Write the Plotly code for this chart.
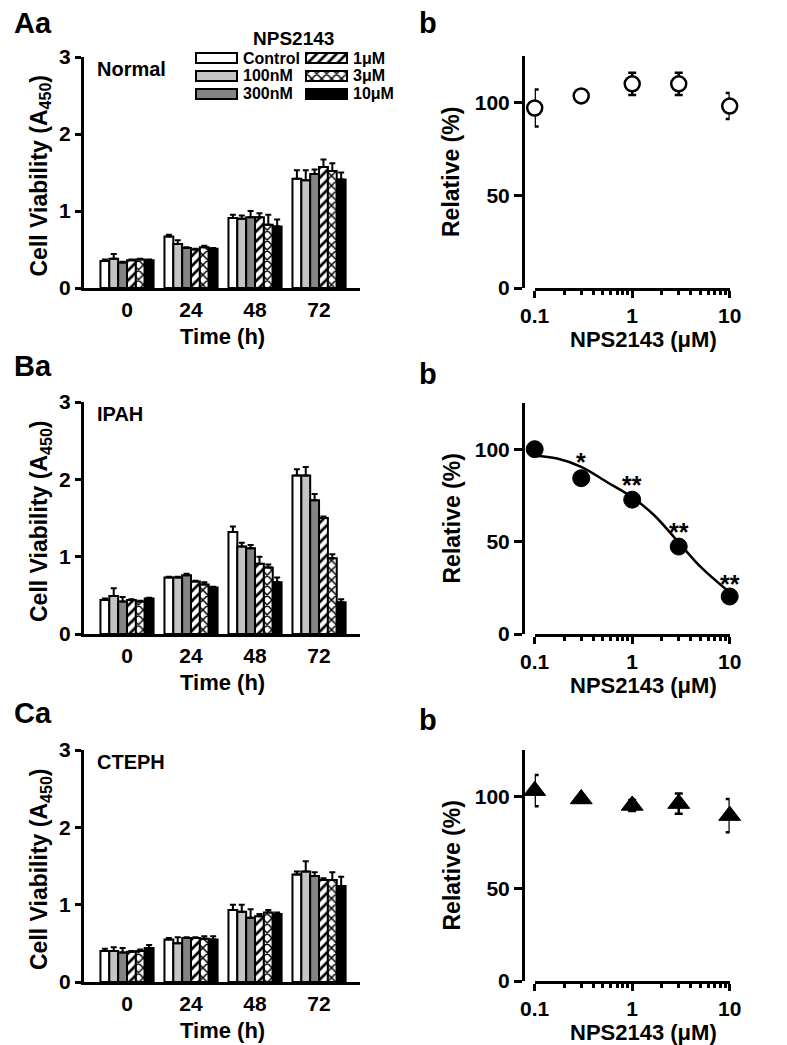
import math
import plotly.graph_objects as go

# ---------------- data ----------------
times = ["0", "24", "48", "72"]
series_names = ["Control", "100nM", "300nM", "1μM", "3μM", "10μM"]
series_fill = ["white", "#c4c4c4", "#848484", "white", "white", "black"]
series_pattern = ["", "", "", "/", "x", ""]

# rows: Control, 100nM, 300nM, 1uM, 3uM, 10uM ; columns: 0, 24, 48, 72 h
normal_means = [[0.35, 0.67, 0.91, 1.42],
                [0.38, 0.57, 0.90, 1.40],
                [0.33, 0.52, 0.92, 1.48],
                [0.36, 0.50, 0.92, 1.57],
                [0.37, 0.53, 0.82, 1.52],
                [0.36, 0.51, 0.80, 1.41]]
normal_sem = [[0.02, 0.02, 0.04, 0.11],
              [0.06, 0.05, 0.04, 0.13],
              [0.01, 0.01, 0.08, 0.06],
              [0.01, 0.01, 0.05, 0.10],
              [0.01, 0.02, 0.13, 0.10],
              [0.01, 0.01, 0.09, 0.09]]

ipah_means = [[0.44, 0.73, 1.32, 2.05],
              [0.49, 0.73, 1.13, 2.05],
              [0.42, 0.76, 1.11, 1.73],
              [0.44, 0.68, 0.91, 1.50],
              [0.42, 0.64, 0.86, 0.98],
              [0.46, 0.60, 0.67, 0.41]]
ipah_sem = [[0.02, 0.01, 0.07, 0.08],
            [0.10, 0.01, 0.05, 0.11],
            [0.06, 0.02, 0.04, 0.08],
            [0.01, 0.01, 0.09, 0.02],
            [0.01, 0.03, 0.04, 0.05],
            [0.01, 0.01, 0.06, 0.04]]

cteph_means = [[0.40, 0.55, 0.93, 1.39],
               [0.40, 0.50, 0.91, 1.43],
               [0.38, 0.57, 0.83, 1.37],
               [0.39, 0.57, 0.85, 1.32],
               [0.40, 0.56, 0.90, 1.32],
               [0.44, 0.55, 0.88, 1.24]]
cteph_sem = [[0.03, 0.02, 0.07, 0.04],
             [0.05, 0.08, 0.09, 0.13],
             [0.06, 0.01, 0.11, 0.05],
             [0.01, 0.01, 0.03, 0.02],
             [0.02, 0.03, 0.03, 0.10],
             [0.04, 0.04, 0.02, 0.12]]

conc = [0.1, 0.3, 1, 3, 10]
normal_rel = [97, 103.5, 110, 110, 98]
normal_rel_err = [10, 1, 6, 6, 7]
ipah_rel = [100, 84.3, 72.7, 47.3, 20.3]
ipah_rel_err = [1, 2, 2, 2, 1]
cteph_rel = [103, 98.5, 95, 96, 89.5]
cteph_rel_err = [8.5, 2, 3, 5.5, 9]

# fitted curve for IPAH
ipah_fit_x = [0.1, 0.17, 0.3, 0.56, 1, 1.7, 3, 5.1, 10]
ipah_fit_y = [96.5, 95, 90.5, 82, 74, 64, 49.5, 36, 22.5]

# significance marks
sig_x = [0.3, 1, 3, 10]
sig_y = [96.5, 84, 58.6, 30.4]
sig_text = ["*", "**", "**", "**"]

conc_ticks = [0.1, 1, 10]
conc_ticktext = ["0.1", "1", "10"]
conc_minor = [0.2, 0.3, 0.4, 0.5, 0.6, 0.7, 0.8, 0.9, 2, 3, 4, 5, 6, 7, 8, 9]

# ---------------- layout helpers ----------------
W, H = 787, 1045
FONT = "Liberation Sans, Arial, Helvetica, sans-serif"


def fx(p):
    return p / W


def fy(p):
    return 1 - p / H


def bold(size):
    return dict(family=FONT, size=size, color="black", weight="bold")


left_rows = [(49, 280), (394, 626), (742, 974)]
right_rows = [(48, 280), (395, 626), (742, 973)]
LEFT_X = (76, 352)
RIGHT_X = (526.7, 721.7)
RIGHT_YAX = 515

fig = go.Figure()
layout = dict(
    width=W, height=H, template="none",
    margin=dict(l=0, r=0, t=0, b=0),
    paper_bgcolor="white", plot_bgcolor="white",
    font=bold(16),
    barmode="group", bargap=0.17, bargroupgap=0,
    showlegend=False,
)

tickfont = bold(21)
annotations = []

panels_bar = [(normal_means, normal_sem, "Normal"),
              (ipah_means, ipah_sem, "IPAH"),
              (cteph_means, cteph_sem, "CTEPH")]
panels_rel = [(normal_rel, normal_rel_err, "open"),
              (ipah_rel, ipah_rel_err, "filled"),
              (cteph_rel, cteph_rel_err, "triangle")]
panel_letters = ["Aa", "Ba", "Ca"]
letter_y = [15, 358, 705]
b_letter_y = [15, 366, 712]


def bar_marker(s):
    marker = dict(color=series_fill[s], line=dict(color="black", width=2))
    if series_pattern[s]:
        marker["pattern"] = dict(shape=series_pattern[s], fgcolor="black", bgcolor="white",
                                 size=7, solidity=0.38, fillmode="replace")
    return marker


for i in range(3):
    xa_l, ya_l = 2 * i + 1, 2 * i + 1
    xa_r, ya_r = 2 * i + 2, 2 * i + 2
    xl = "x" if xa_l == 1 else f"x{xa_l}"
    yl = "y" if ya_l == 1 else f"y{ya_l}"
    xr, yr = f"x{xa_r}", f"y{ya_r}"
    top, bot = left_rows[i]
    rtop, rbot = right_rows[i]

    means, sem, label = panels_bar[i]
    for s in range(6):
        fig.add_trace(go.Bar(
            x=times, y=means[s], name=series_names[s], xaxis=xl, yaxis=yl,
            marker=bar_marker(s), offsetgroup=str(s),
            error_y=dict(type="data", symmetric=False, array=sem[s],
                         arrayminus=[0] * len(sem[s]), color="black",
                         thickness=2, width=3),
        ))

    kx = "xaxis" if xa_l == 1 else f"xaxis{xa_l}"
    ky = "yaxis" if ya_l == 1 else f"yaxis{ya_l}"
    layout[kx] = dict(domain=[fx(LEFT_X[0]), fx(LEFT_X[1])], anchor=yl, type="category",
                      range=[-0.672, 3.64], showline=True, linecolor="black", linewidth=3,
                      ticks="outside", ticklen=1, tickcolor="rgba(0,0,0,0)",
                      tickfont=tickfont, showgrid=False, zeroline=False, fixedrange=True)
    layout[ky] = dict(domain=[fy(bot), fy(top)], anchor=xl, range=[0, 3],
                      tickvals=[0, 1, 2, 3], showline=True, linecolor="black", linewidth=3,
                      ticks="outside", ticklen=6, tickwidth=3, tickcolor="black",
                      tickfont=tickfont, showgrid=False, zeroline=False, fixedrange=True)

    # right panel
    vals, errs, style = panels_rel[i]
    if style == "open":
        mk = dict(symbol="circle", size=15, color="white", line=dict(color="black", width=2.5))
    elif style == "filled":
        mk = dict(symbol="circle", size=17, color="black", line=dict(color="black", width=1))
    else:
        mk = dict(symbol="triangle-up", size=19, color="black", line=dict(color="black", width=1))

    if style == "filled":
        fig.add_trace(go.Scatter(x=ipah_fit_x, y=ipah_fit_y, mode="lines", xaxis=xr, yaxis=yr,
                                 line=dict(color="black", width=2.5, shape="spline", smoothing=1.0),
                                 cliponaxis=False, hoverinfo="skip"))
    fig.add_trace(go.Scatter(
        x=conc, y=vals, mode="markers", xaxis=xr, yaxis=yr, marker=mk, cliponaxis=False,
        error_y=dict(type="data", array=errs, color="black", thickness=2.5, width=4),
    ))
    if style == "filled":
        for sx, sy, st in zip(sig_x, sig_y, sig_text):
            annotations.append(dict(x=math.log10(sx), y=sy, xref=xr, yref=yr, text=st,
                                    showarrow=False, font=bold(25),
                                    xanchor="center", yanchor="middle", yshift=-6))

    layout[f"xaxis{xa_r}"] = dict(domain=[fx(RIGHT_X[0]), fx(RIGHT_X[1])], anchor=yr, type="log",
                                  range=[-1, 1], tickvals=conc_ticks, ticktext=conc_ticktext,
                                  showline=True, linecolor="black", linewidth=3,
                                  ticks="outside", ticklen=7, tickwidth=3, tickcolor="black",
                                  minor=dict(tickvals=conc_minor, ticks="outside", ticklen=4,
                                             tickwidth=2.5, tickcolor="black", showgrid=False),
                                  tickfont=tickfont, showgrid=False, zeroline=False, fixedrange=True)
    layout[f"yaxis{ya_r}"] = dict(domain=[fy(rbot), fy(rtop)], anchor="free",
                                  position=fx(RIGHT_YAX), range=[0, 125], tickvals=[0, 50, 100],
                                  showline=True, linecolor="black", linewidth=3,
                                  ticks="outside", ticklen=8, tickwidth=3, tickcolor="black",
                                  tickfont=tickfont, showgrid=False, zeroline=False, fixedrange=True)

    # texts
    annotations.append(dict(x=fx(4), y=fy(letter_y[i]), xref="paper", yref="paper",
                            text=panel_letters[i], showarrow=False, xanchor="left", yanchor="middle",
                            font=bold(29)))
    annotations.append(dict(x=fx(409), y=fy(b_letter_y[i]), xref="paper", yref="paper",
                            text="b", showarrow=False, xanchor="left", yanchor="middle",
                            font=bold(29)))
    annotations.append(dict(x=fx(87), y=fy(top + 12), xref="paper", yref="paper",
                            text=label, showarrow=False, xanchor="left", yanchor="middle",
                            font=bold(20)))
    annotations.append(dict(x=fx(32), y=fy((top + bot) / 2 + 3), xref="paper", yref="paper",
                            text="Cell Viability (A<sub>450</sub>)", showarrow=False, textangle=-90,
                            xanchor="center", yanchor="middle", font=bold(23)))
    annotations.append(dict(x=fx(214), y=fy(bot + 48), xref="paper", yref="paper",
                            text="Time (h)", showarrow=False, xanchor="center", yanchor="middle",
                            font=bold(22)))
    annotations.append(dict(x=fx(443), y=fy((rtop + rbot) / 2), xref="paper", yref="paper",
                            text="Relative (%)", showarrow=False, textangle=-90,
                            xanchor="center", yanchor="middle", font=bold(23)))
    annotations.append(dict(x=fx(635), y=fy(rbot + 51), xref="paper", yref="paper",
                            text="NPS2143 (μM)", showarrow=False, xanchor="center", yanchor="middle",
                            font=bold(22)))

# ---------------- legend (inset swatches) ----------------
LEG_X = (185, 345)
LEG_Y = (41, 95)
for s in range(6):
    col, row = s // 3, s % 3
    base = 3 + col * 110
    fig.add_trace(go.Bar(x=[41], y=[9 + row * 18], base=[base], orientation="h",
                         width=10, offset=-5, xaxis="x7", yaxis="y7", marker=bar_marker(s),
                         hoverinfo="skip"))
    annotations.append(dict(x=fx(LEG_X[0] + base + 45), y=fy(LEG_Y[0] + 9 + row * 18),
                            xref="paper", yref="paper", text=series_names[s], showarrow=False,
                            xanchor="left", yanchor="middle", font=bold(16)))
annotations.append(dict(x=fx(285), y=fy(30), xref="paper", yref="paper", text="NPS2143",
                        showarrow=False, xanchor="center", yanchor="middle", font=bold(19)))
layout["xaxis7"] = dict(domain=[fx(LEG_X[0]), fx(LEG_X[1])], anchor="y7", range=[0, 160],
                        visible=False, fixedrange=True)
layout["yaxis7"] = dict(domain=[fy(LEG_Y[1]), fy(LEG_Y[0])], anchor="x7",
                        range=[LEG_Y[1] - LEG_Y[0], 0], visible=False, fixedrange=True)

layout["annotations"] = annotations
layout["shapes"] = [dict(type="line", xref="paper", yref="paper", x0=0, x1=1,
                         y0=fy(1042), y1=fy(1042), line=dict(color="#555555", width=1.5))]

fig.update_layout(**layout)
fig.write_html("out.html")
